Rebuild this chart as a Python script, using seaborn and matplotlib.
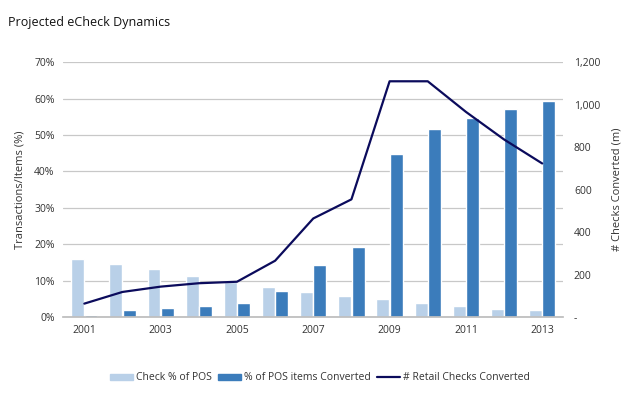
import numpy as np
import pandas as pd
import matplotlib
matplotlib.use("Agg")
import matplotlib.pyplot as plt
import seaborn as sns
from matplotlib.patches import Patch
from matplotlib.lines import Line2D
from matplotlib.ticker import FuncFormatter

years = [str(y) for y in range(2001, 2014)]
check_pct_pos = [15.9, 14.6, 13.2, 11.3, 9.7, 8.2, 6.9, 5.8, 4.9, 3.8, 3.0, 2.2, 1.9]
pos_converted = [0.6, 1.9, 2.6, 3.1, 3.8, 7.1, 14.3, 19.2, 44.8, 51.6, 54.7, 57.1, 59.3]
retail_checks = [63, 118, 143, 159, 166, 265, 464, 554, 1110, 1110, 966, 836, 723]
series_names = ["Check % of POS", "% of POS items Converted", "# Retail Checks Converted"]

light = "#b9d0e8"
dark = "#3b7cbb"
navy = "#0b0b5c"
grid = "#c8c8c8"
txt = "#333333"

sns.set_theme(style="white")
plt.rcParams["font.family"] = ["Open Sans", "DejaVu Sans"]

df = pd.DataFrame({
    "year": years * 2,
    "value": check_pct_pos + pos_converted,
    "series": [series_names[0]] * len(years) + [series_names[1]] * len(years),
})

fig = plt.figure(figsize=(6.4, 3.96), dpi=100)
ax = fig.add_axes([0.0984, 0.1995, 0.781, 0.6435])

sns.barplot(data=df, x="year", y="value", hue="series", palette=[light, dark],
            width=0.7, gap=0.03, ax=ax, legend=False, saturation=1)

ax.set_ylim(0, 70)
ax.set_yticks(np.arange(0, 71, 10))
ax.yaxis.set_major_formatter(FuncFormatter(lambda v, p: f"{int(v)}%"))
ax.set_xlim(-0.56, 12.54)
ax.grid(axis="y", color=grid, linewidth=0.9)
ax.set_axisbelow(True)
for s in ["top", "right", "left"]:
    ax.spines[s].set_visible(False)
ax.spines["bottom"].set_color("#bdbdbd")
ax.set_xticks(range(len(years)))
ax.set_xticklabels([y if i % 2 == 0 else "" for i, y in enumerate(years)])
ax.tick_params(axis="both", length=0, labelsize=7.5, colors=txt, pad=6)
ax.set_xlabel("")
ax.set_ylabel("Transactions/Items (%)", fontsize=8, color=txt, labelpad=6)

ax2 = ax.twinx()
sns.lineplot(x=np.arange(len(years)), y=retail_checks, color=navy, linewidth=1.6, ax=ax2)
ax2.set_ylim(0, 1200)
ax2.set_yticks(np.arange(0, 1201, 200))
ax2.yaxis.set_major_formatter(FuncFormatter(lambda v, p: "-" if v == 0 else f"{int(v):,}"))
ax2.tick_params(axis="y", length=0, labelsize=7.5, colors=txt, pad=8)
for s in ["top", "right", "left", "bottom"]:
    ax2.spines[s].set_visible(False)
ax2.set_ylabel("# Checks Converted (m)", fontsize=8, color=txt, labelpad=8)
ax2.grid(False)

fig.text(0.012, 0.935, "Projected eCheck Dynamics", fontsize=9, color="#111111", ha="left")

handles = [Patch(color=light), Patch(color=dark), Line2D([0], [0], color=navy, lw=1.6)]
fig.legend(handles, series_names, loc="center", bbox_to_anchor=(0.5, 0.046), ncol=3,
           frameon=False, fontsize=7.5, handlelength=2.2, handleheight=0.5,
           columnspacing=0.6, handletextpad=0.3, labelcolor=txt)

fig.savefig("out.png", dpi=100)
